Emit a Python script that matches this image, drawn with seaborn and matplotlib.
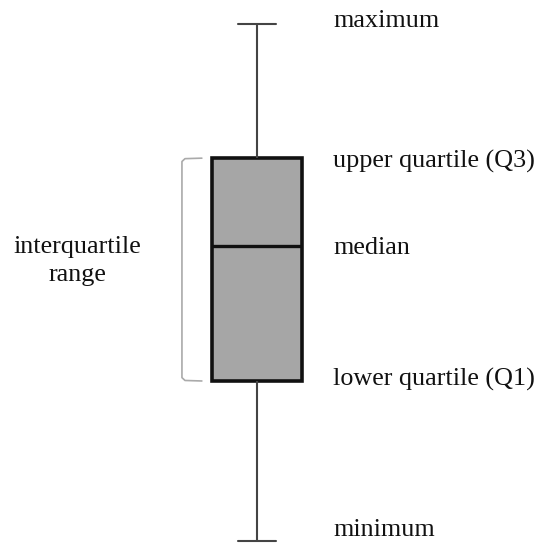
# Diagrama explicativo de un box plot (min, Q1, mediana, Q3, max)

import numpy as np
import matplotlib
matplotlib.use("Agg")
import matplotlib.pyplot as plt
import seaborn as sns

# ------------------------------------------------------------
# Datos: los cinco valores del resumen
# ------------------------------------------------------------

stat_values = [0, 31, 57, 74, 100]
stat_labels = ["minimum", "lower quartile (Q1)", "median", "upper quartile (Q3)", "maximum"]
iqr_label = "interquartile\nrange"

# ------------------------------------------------------------
# Figura
# ------------------------------------------------------------

sns.set_style("white")
plt.rcParams["font.family"] = ["Liberation Serif", "DejaVu Serif"]

fig = plt.figure(figsize=(5.41, 5.43), dpi=100)
ax = fig.add_axes([0, 0, 1, 1])

sns.boxplot(
    y=stat_values,
    ax=ax,
    whis=np.inf,
    width=0.8,
    capwidths=0.33,
    boxprops={"facecolor": "#a6a6a6", "edgecolor": "#111111", "linewidth": 2.6},
    medianprops={"color": "#111111", "linewidth": 2.4},
    whiskerprops={"color": "#444444", "linewidth": 1.5},
    capprops={"color": "#444444", "linewidth": 1.5},
)

ax.set_xlim(-2.284, 2.524)
ax.set_ylim(-0.387, 104.64)
ax.axis("off")

# Etiquetas a la derecha
offsets = {"minimum": 2.2, "maximum": 0.6, "upper quartile (Q3)": -0.6,
           "lower quartile (Q1)": 0.3, "median": -0.4}
for val, lab in zip(stat_values, stat_labels):
    ax.text(0.675, val + offsets[lab], lab, ha="left", va="center",
            fontsize=18.8, color="#111111")

# Corchete del rango intercuartil
q1, q3 = stat_values[1], stat_values[3]
ax.plot([-0.49, -0.64, -0.667, -0.667, -0.64, -0.49],
        [q3 + 0.05, q3 - 0.05, q3 - 0.6, q1 + 0.6, q1 + 0.05, q1 - 0.05],
        color="#aaaaaa", linewidth=1.2)

ax.text(-1.6, (q1 + q3) / 2 + 1.7, iqr_label, ha="center", va="center",
        fontsize=18.8, color="#111111", linespacing=1.35)

plt.savefig("out.png", dpi=100)
plt.close()
